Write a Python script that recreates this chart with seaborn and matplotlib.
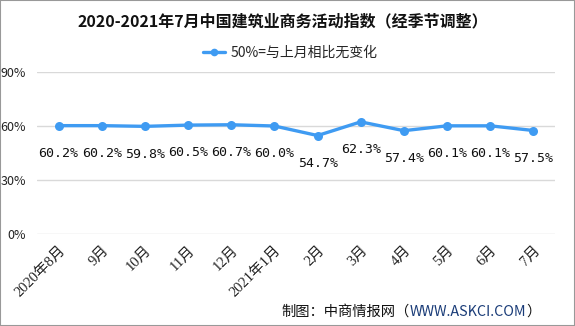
import matplotlib
matplotlib.use("Agg")
import matplotlib.pyplot as plt
import seaborn as sns
import pandas as pd
from matplotlib.lines import Line2D
from matplotlib.patches import Rectangle

months = ["2020年8月", "9月", "10月", "11月", "12月", "2021年1月",
          "2月", "3月", "4月", "5月", "6月", "7月"]
values = [60.2, 60.2, 59.8, 60.5, 60.7, 60.0, 54.7, 62.3, 57.4, 60.1, 60.1, 57.5]
yticks = [0, 30, 60, 90]
title = "2020-2021年7月中国建筑业商务活动指数（经季节调整）"
legend_label = "50%=与上月相比无变化"
source_parts = ["制图：中商情报网（", "WWW.ASKCI.COM", "）"]
source_colors = ["#111111", "#1a3c78", "#111111"]

sns.set_theme(style="white")
plt.rcParams['font.family'] = ['Noto Sans CJK SC', 'DejaVu Sans']

df = pd.DataFrame({"month": months, "value": values, "x": range(len(months))})

fig = plt.figure(figsize=(5.75, 3.26), dpi=100)
ax = fig.add_axes([37/575, 1-234/326, (555-37)/575, (234-72)/326])

color = "#3f9bf2"
sns.lineplot(data=df, x="x", y="value", ax=ax, color=color, linewidth=2.4,
             marker="o", markersize=6.5, markeredgewidth=0)

for xi, v in zip(df["x"], df["value"]):
    ax.annotate(f"{v:.1f}%", (xi, v), xytext=(0, -20), textcoords="offset points",
                ha="center", va="center", fontsize=9.5,
                family=["DejaVu Sans Mono"], color="#111111")

ax.set_xlim(-0.5, len(months) - 0.5)
ax.set_ylim(0, 90)
ax.set_yticks(yticks)
ax.set_yticklabels([f"{t}%" for t in yticks], fontsize=9, color="#222222")
ax.set_xticks(range(len(months)))
ax.set_xticklabels(months, rotation=45, ha="right", rotation_mode="anchor",
                   fontsize=10.5, color="#222222",
                   family=["Liberation Serif", "Noto Sans CJK SC"])
ax.tick_params(axis="y", length=0, pad=8)
ax.tick_params(axis="x", length=0, pad=7)
ax.grid(axis="y", color="#d9d9d9", linewidth=1)
ax.set_axisbelow(True)
for s in ax.spines.values():
    s.set_visible(False)
ax.set_xlabel("")
ax.set_ylabel("")

fig.text(283/575, 1-21/326, title, ha="center", va="center", fontsize=11.5,
         fontweight="bold", color="#111111")

handle = Line2D([], [], color=color, linewidth=2.4, marker="o", markersize=5.5,
                markeredgewidth=0)
fig.legend([handle], [legend_label], loc="center", bbox_to_anchor=(290/575, 1-53/326),
           frameon=False, fontsize=10, handlelength=1.6, handletextpad=0.4)

# footer, drawn piece by piece so the web address can be coloured; right edge at 541 px
renderer = fig.canvas.get_renderer()
texts = []
x_px = 0
for part, c in zip(source_parts, source_colors):
    t = fig.text(x_px/575, 1-312/326, part, ha="left", va="center", fontsize=10.3, color=c)
    bb = t.get_window_extent(renderer=renderer)
    x_px = bb.x1
    texts.append(t)
shift = 541 - x_px
x_px = 0
for t in texts:
    bb = t.get_window_extent(renderer=renderer)
    w = bb.x1 - bb.x0
    t.set_x((x_px + shift)/575)
    x_px += w

fig.patches.append(Rectangle((0, 0), 1, 1, transform=fig.transFigure, fill=False,
                             edgecolor="#999999", linewidth=1.5))

fig.savefig("out.png", dpi=100)
